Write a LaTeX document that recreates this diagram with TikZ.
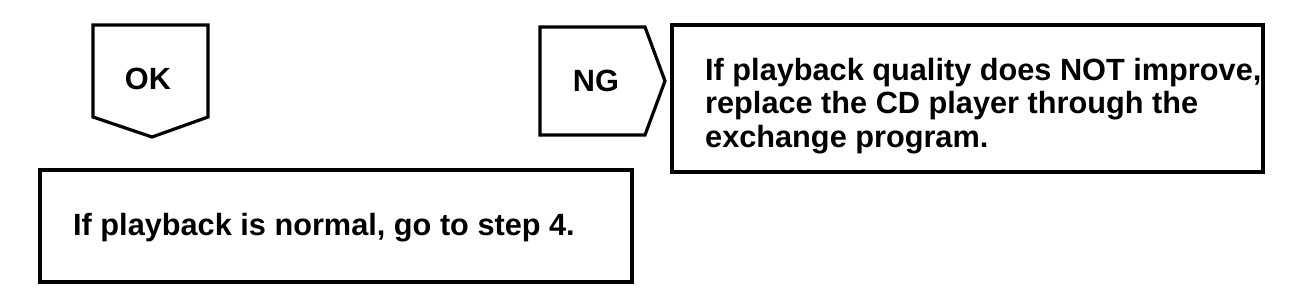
\documentclass[tikz,border=0pt]{standalone}
\usepackage{fontspec}
\setmainfont{Liberation Sans}
\begin{document}
\begin{tikzpicture}[x=1pt,y=-1pt,
  outline/.style={draw=black,line width=3.2pt,line join=miter},
  label/.style={font=\fontsize{30.7}{33.5}\selectfont\bfseries,inner sep=0pt,text=black}]
\useasboundingbox (0,0) rectangle (1312,298);
% OK pentagon
\coordinate (okA) at (93,25);
\coordinate (okB) at (208,25);
\coordinate (okC) at (208,117);
\coordinate (okD) at (152,137);
\coordinate (okE) at (93,117);
\draw[outline] (okA) -- (okB) -- (okC) -- (okD) -- (okE) -- cycle;
\node[label] (ok) at (148,79) {OK};
% NG pentagon
\coordinate (ngA) at (540,27);
\coordinate (ngB) at (645,27);
\coordinate (ngC) at (665,81);
\coordinate (ngD) at (645,135);
\coordinate (ngE) at (540,135);
\draw[outline] (ngA) -- (ngB) -- (ngC) -- (ngD) -- (ngE) -- cycle;
\node[label] (ng) at (596,81) {NG};
% NG result box
\draw[outline] (672,25) rectangle (1263,172);
\node[label,anchor=base west,align=left] (ngtext) at (705,147)
  {If playback quality does NOT improve,\\replace the CD player through the\\exchange program.};
% OK result box
\draw[outline] (40,170) rectangle (632,282);
\node[label,anchor=base west] (oktext) at (73,235) {If playback is normal, go to step 4.};
\end{tikzpicture}
\end{document}
